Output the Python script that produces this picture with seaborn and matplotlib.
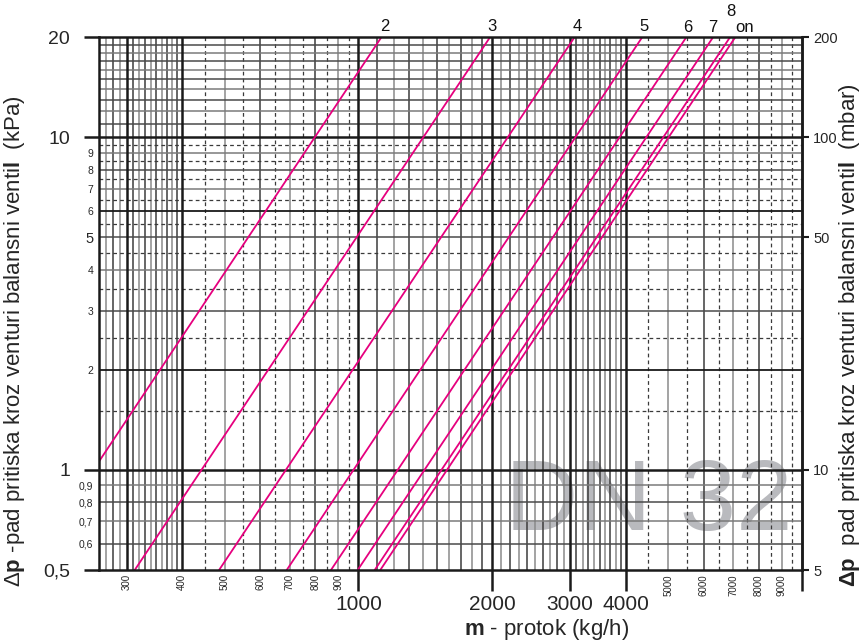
import numpy as np
import pandas as pd
import matplotlib
matplotlib.use("Agg")
import matplotlib.pyplot as plt
from matplotlib.ticker import NullLocator
import seaborn as sns

# ---------------- data ----------------
settings = ["2", "3", "4", "5", "6", "7", "8", "on"]
flow_start = [260, 313, 485, 689, 867, 996, 1088, 1120]      # kg/h
dp_start = [1.06, 0.5, 0.5, 0.5, 0.5, 0.5, 0.5, 0.5]          # kPa
flow_end = [1126, 1979, 3069, 4361, 5483, 6300, 6880, 7070]   # kg/h
dp_end = [20, 20, 20, 20, 20, 20, 20, 20]                     # kPa

x_major_ticks = [1000, 2000, 3000, 4000, 10000]
x_major_labels = ["1000", "2000", "3000", "4000", ""]
x_minor_ticks = [300, 400, 500, 600, 700, 800, 900, 5000, 6000, 7000, 8000, 9000]
x_minor_labels = ["300", "400", "500", "600", "700", "800", "900",
                  "5000", "6000", "7000", "8000", "9000"]
y_major_ticks = [0.5, 1, 10, 20]
y_major_labels = ["0,5", "1", "10", "20"]
y_minor_ticks = [0.6, 0.7, 0.8, 0.9, 2, 3, 4, 5, 6, 7, 8, 9]
y_minor_labels = ["0,6", "0,7", "0,8", "0,9", "2", "3", "4", "5", "6", "7", "8", "9"]
mbar_ticks = [5, 10, 50, 100, 200]
mbar_labels = ["5", "10", "50", "100", "200"]

# ---------------- style ----------------
sns.set_theme(style="white")
plt.rcParams['font.family'] = ['Liberation Sans', 'DejaVu Sans']
plt.rcParams['mathtext.fontset'] = 'custom'
plt.rcParams['mathtext.rm'] = 'Liberation Sans'
plt.rcParams['mathtext.bf'] = 'Liberation Sans:bold'
plt.rcParams['mathtext.it'] = 'Liberation Sans:italic'
plt.rcParams['text.color'] = '#222222'

PINK = '#e6007e'
DARK = '#1a1a1a'

fig = plt.figure(figsize=(8.61, 6.41), dpi=100)
ax = fig.add_axes([99 / 861, 1 - 570 / 641, (802 - 99) / 861, (570 - 37.3) / 641])
ax.set_xscale('log')
ax.set_yscale('log')
ax.set_xlim(260, 10000)
ax.set_ylim(0.5, 20)

# ---------------- grid (style, drawn by hand like the nomogram) ----------------
x_thin = (list(range(260, 300, 10)) + list(range(310, 400, 10)) +
          list(range(500, 1000, 100)) + list(range(1100, 2000, 100)) +
          list(range(2100, 3000, 100)) + list(range(3100, 4000, 100)) +
          list(range(5000, 10000, 1000)))
x_dash = list(range(450, 1000, 100)) + list(range(4500, 10000, 1000))
x_bold = [300, 400, 1000, 2000, 3000, 4000]
y_thin = [0.6, 0.7, 0.8, 0.9, 3, 4, 5, 7, 8, 9] + list(range(11, 20))
y_dark = [2, 6]
y_dash = [1.5, 2.5, 3.5, 4.5, 5.5, 6.5, 7.5, 8.5, 9.5]
y_bold = [1, 10]

for i, v in enumerate(x_thin):
    ax.axvline(v, color='#3c3c3c' if i % 2 == 0 else '#8a8a8a', lw=1.1, zorder=1)
for v in x_dash:
    ax.axvline(v, color='#3a3a3a', lw=0.9, ls=(0, (3, 2.5)), zorder=1)
for v in x_bold:
    ax.axvline(v, color=DARK, lw=1.8, zorder=1.2)
for i, v in enumerate(y_thin):
    ax.axhline(v, color='#4a4a4a' if i % 2 == 0 else '#7a7a7a', lw=1.1, zorder=1)
for v in y_dark:
    ax.axhline(v, color=DARK, lw=1.3, zorder=1.1)
for v in y_dash:
    ax.axhline(v, color='#3a3a3a', lw=0.9, ls=(0, (3, 2.5)), zorder=1)
for v in y_bold:
    ax.axhline(v, color=DARK, lw=1.8, zorder=1.2)

# ---------------- watermark ----------------
ax.text(0.578, 0.075, "DN 32", transform=ax.transAxes, fontsize=73,
        color='#b9babe', ha='left', va='baseline', zorder=0.5)

# ---------------- curves ----------------
rows = []
for s, f0, p0, f1, p1 in zip(settings, flow_start, dp_start, flow_end, dp_end):
    rows.append({"setting": s, "flow": f0, "dp": p0})
    rows.append({"setting": s, "flow": f1, "dp": p1})
df = pd.DataFrame(rows)
sns.lineplot(data=df, x="flow", y="dp", units="setting", estimator=None,
             sort=False, color=PINK, lw=1.3, ax=ax, zorder=3, legend=False)

label_offsets = [(3, 11), (2, 11), (3, 11), (2, 11), (2, 10), (0, 10), (1, 26), (9, 10)]
for s, f1, p1, off in zip(settings, flow_end, dp_end, label_offsets):
    ax.annotate(s, xy=(f1, p1), xytext=off, textcoords='offset pixels',
                ha='center', va='center', fontsize=12, color='#111111',
                annotation_clip=False)

# ---------------- axes / ticks ----------------
for sp in ax.spines.values():
    sp.set_visible(True)
    sp.set_color(DARK)
    sp.set_linewidth(1.8)
    sp.set_zorder(4)

ax.set_xticks(x_major_ticks, x_major_labels)
ax.set_xticks(x_minor_ticks, x_minor_labels, minor=True)
ax.set_yticks(y_major_ticks, y_major_labels)
ax.set_yticks(y_minor_ticks, y_minor_labels, minor=True)

ax.tick_params(axis='x', which='major', direction='out', length=15, width=1.8,
               color=DARK, labelsize=15, pad=3, bottom=True)
ax.tick_params(axis='x', which='minor', length=0, labelsize=7, pad=3,
               labelrotation=90, bottom=True)
ax.tick_params(axis='y', which='major', direction='out', length=10.8, width=1.8,
               color=DARK, labelsize=14, pad=10, left=True)
ax.tick_params(axis='y', which='minor', length=0, labelsize=7.5, pad=4, left=True)
for lab in ax.get_yticklabels(minor=True):
    if lab.get_text() == "5":
        lab.set_fontsize(10.5)

sec = ax.secondary_yaxis('right', functions=(lambda v: v * 10, lambda v: v / 10))
sec.set_yticks(mbar_ticks, mbar_labels)
sec.yaxis.set_minor_locator(NullLocator())
sec.tick_params(axis='y', which='major', direction='out', length=5, width=1.5,
                color=DARK, labelsize=10.5, pad=3)
sec.spines['right'].set_color(DARK)
sec.spines['right'].set_linewidth(1.8)

ax.set_xlabel("$\\mathbf{m}$ - protok (kg/h)", fontsize=16)
ax.xaxis.set_label_coords(0.636, -0.088)
ax.set_ylabel("Δ$\\mathbf{p}$ -pad pritiska kroz venturi balansni venti$\\mathbf{l}$  (kPa)",
              fontsize=16)
ax.yaxis.set_label_coords(-0.103, 0.43)
fig.text(850 / 861, 1 - 335 / 641,
         "$\\mathbf{Δp}$  pad pritiska kroz venturi balansni venti$\\mathbf{l}$  (mbar)",
         fontsize=16, rotation=90, ha='center', va='center', color='#222222')

fig.savefig("out.png", dpi=100, facecolor='white')
